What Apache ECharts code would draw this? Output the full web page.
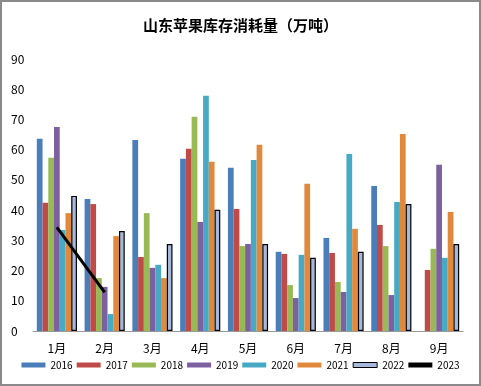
<!DOCTYPE html>
<html><head><meta charset="utf-8">
<script src="https://cdn.jsdelivr.net/npm/echarts@6/dist/echarts.min.js"></script>
<style>
html,body{margin:0;padding:0;background:#fff;}
#c{width:481px;height:386px;box-sizing:border-box;border:2px solid #8a8a8a;}
</style></head>
<body><div id="c"></div>
<script>
const categories = ['1月','2月','3月','4月','5月','6月','7月','8月','9月'];
const s2016 = [63.6, 43.7, 63.2, 57.0, 54.0, 26.2, 30.8, 48.0, null];
const s2017 = [42.4, 42.0, 24.5, 60.3, 40.4, 25.5, 25.8, 35.1, 20.2];
const s2018 = [57.3, 17.5, 39.0, 70.9, 28.1, 15.2, 16.2, 28.1, 27.2];
const s2019 = [67.5, 14.6, 20.9, 36.1, 28.8, 10.9, 12.9, 11.9, 55.0];
const s2020 = [33.4, 5.6, 21.9, 77.8, 56.6, 25.2, 58.6, 42.7, 24.2];
const s2021 = [39.0, 31.4, 17.5, 56.0, 61.6, 48.7, 33.8, 65.2, 39.4];
const s2022 = [44.7, 33.1, 28.8, 40.1, 28.8, 24.2, 26.2, 42.0, 28.8];
const s2023 = [34.3, 12.8, null, null, null, null, null, null, null];
const yTicks = [0,10,20,30,40,50,60,70,80,90];

const font = 'SimSun, "Noto Sans CJK SC", sans-serif';
const barDefs = [
  ['2016', s2016, '#4a7ebb'],
  ['2017', s2017, '#be4b48'],
  ['2018', s2018, '#98b954'],
  ['2019', s2019, '#7d60a0'],
  ['2020', s2020, '#46aac5'],
  ['2021', s2021, '#e0893c']
];
const series = barDefs.map(d => ({
  name: d[0], type: 'bar', data: d[1], barGap: '0%', barCategoryGap: '16%',
  itemStyle: {color: d[2]}
}));
series.push({name:'2022', type:'bar', data:s2022, barGap:'0%', barCategoryGap:'16%',
  itemStyle:{color:'#a7b9da', borderColor:'#000', borderWidth:1.2}});
series.push({name:'2023', type:'line', data:s2023, showSymbol:false, symbol:'none', z:10,
  lineStyle:{color:'#000', width:3}, itemStyle:{color:'#000'}});

const chart = echarts.init(document.getElementById('c'));
chart.setOption({
  animation:false,
  title:{text:'山东苹果库存消耗量（万吨）', left:'center', top:11,
    textStyle:{fontFamily:'"Noto Sans CJK SC", sans-serif', fontWeight:'bold', fontSize:15, color:'#000'}},
  grid:{left:31, right:16, top:57, bottom:53},
  legend:{bottom:14, left:'center', width:475, padding:0, itemWidth:24, itemHeight:5, itemGap:4, icon:'rect',
    textStyle:{fontFamily:font, fontSize:10, color:'#000'},
    data:['2016','2017','2018','2019','2020','2021',
      {name:'2022', icon:'rect', itemStyle:{color:'#a7b9da', borderColor:'#000', borderWidth:1}},
      {name:'2023', icon:'rect', itemStyle:{color:'#000'}}]},
  xAxis:{type:'category', data:categories,
    axisLine:{lineStyle:{color:'#999'}}, axisTick:{show:false},
    axisLabel:{color:'#000', fontSize:12, fontFamily:font, margin:11}},
  yAxis:{type:'value', min:yTicks[0], max:yTicks[yTicks.length-1], interval:10,
    axisLine:{show:false}, axisTick:{show:false}, splitLine:{show:false},
    axisLabel:{color:'#000', fontSize:12, fontFamily:font, align:'left', margin:22}},
  series: series
});
</script></body></html>
